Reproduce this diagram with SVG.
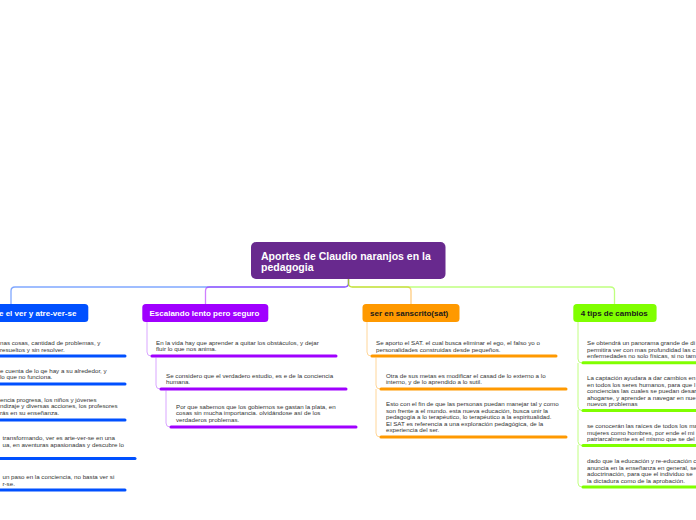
<svg xmlns="http://www.w3.org/2000/svg" width="696" height="520" viewBox="0 0 696 520">
<style>
.root-t{font-family:"Liberation Sans",Arial,sans-serif;font-weight:bold;font-size:10.5px;fill:#fff}
.main-t{font-family:"Liberation Sans",Arial,sans-serif;font-weight:bold;font-size:8px}
.sub-t{font-family:"Liberation Sans",Arial,sans-serif;font-size:6.2px;fill:#333}
.conn{fill:none;stroke-width:1.3;opacity:.5}
.sconn{fill:none;stroke-width:1}
.ul{stroke-width:3;stroke-linecap:round}
.blue{stroke:#0050ff}.purple{stroke:#a000ff}.orange{stroke:#ff9900}.green{stroke:#80ff00}
.sblue{stroke:#80a8ff}.spurple{stroke:#d9a6ff}.sorange{stroke:#ffd699}.sgreen{stroke:#c0ff80}
</style>
<rect width="696" height="520" fill="#fff"/>
<g id="connectors">
<path class="conn blue" d="M348.5,279 V283 Q348.5,287 344.5,287 H15 Q11,287 11,291 V304"/>
<path class="conn purple" d="M348.5,279 V283 Q348.5,287 344.5,287 H209.5 Q205.5,287 205.5,291 V304"/>
<path class="conn orange" d="M348.5,279 V283 Q348.5,287 352.5,287 H407 Q411,287 411,291 V304"/>
<path class="conn green" d="M348.5,279 V283 Q348.5,287 352.5,287 H610.5 Q614.5,287 614.5,291 V304"/>
<path class="sconn spurple" d="M147,322 V352 Q147,356 151,356"/>
<path class="sconn spurple" d="M156,357.5 V385 Q156,389 160,389"/>
<path class="sconn spurple" d="M166,390.5 V423 Q166,427 170,427"/>
<path class="sconn sorange" d="M367,322 V352 Q367,356 371,356"/>
<path class="sconn sorange" d="M376,357.5 V385 Q376,389 380,389"/>
<path class="sconn sorange" d="M376,389 V433 Q376,437 380,437"/>
<path class="sconn sgreen" d="M578,322 V359 Q578,363 582,363"/>
<path class="sconn sgreen" d="M578,363 V406.5 Q578,410.5 582,410.5"/>
<path class="sconn sgreen" d="M578,410 V441.5 Q578,445.5 582,445.5"/>
<path class="sconn sgreen" d="M578,445 V483 Q578,487 582,487"/>
</g>
<g id="root">
<rect x="251" y="242" width="194.5" height="37" rx="5" fill="#68298e"/>
<text class="root-t" x="261" y="260">Aportes de Claudio naranjos en la</text>
<text class="root-t" x="261" y="271">pedagogia</text>
</g>
<g id="n-blue">
<rect x="-10" y="304" width="98.3" height="18" rx="3.5" fill="#0050ff"/>
<text class="main-t" x="-1" y="316" fill="#fff">e el ver y atre-ver-se</text>
</g>
<g id="n-purple">
<rect x="142.3" y="304" width="126" height="18" rx="3.5" fill="#a000ff"/>
<text class="main-t" x="149.5" y="316" fill="#fff">Escalando lento pero seguro</text>
</g>
<g id="n-orange">
<rect x="362.5" y="304" width="97" height="18" rx="3.5" fill="#ff9900"/>
<text class="main-t" x="370" y="316" fill="#1a1a1a">ser en sanscrito(sat)</text>
</g>
<g id="n-green">
<rect x="573.3" y="304" width="83.3" height="18" rx="3.5" fill="#80ff00"/>
<text class="main-t" x="580.7" y="316" fill="#1a1a1a">4 tips de cambios</text>
</g>
<g id="b1">
<text class="sub-t" x="0" y="345">nas cosas, cantidad de problemas, y</text>
<text class="sub-t" x="0" y="351.5">resueltos y sin resolver.</text>
<line class="ul blue" x1="-5" y1="356" x2="125" y2="356"/>
</g>
<g id="b2">
<text class="sub-t" x="0" y="372.5">e cuenta de lo qe hay a su alrededor, y</text>
<text class="sub-t" x="0" y="379">lo que no funciona.</text>
<line class="ul blue" x1="-5" y1="384" x2="125" y2="384"/>
</g>
<g id="b3">
<text class="sub-t" x="0" y="401.5">encia progresa, los niños y jóvenes</text>
<text class="sub-t" x="0" y="408">ndizaje y diversas acciones, los profesores</text>
<text class="sub-t" x="0" y="414.5">rás en su enseñanza.</text>
<line class="ul blue" x1="-5" y1="420" x2="125" y2="420"/>
</g>
<g id="b4">
<text class="sub-t" x="2.5" y="440">transformando, ver es arte-ver-se en una</text>
<text class="sub-t" x="2.5" y="446.5">ua, en aventuras apasionadas y descubre lo</text>
<line class="ul blue" x1="-5" y1="458.5" x2="135" y2="458.5"/>
</g>
<g id="b5">
<text class="sub-t" x="2.5" y="479">un paso en la conciencia, no basta ver si</text>
<text class="sub-t" x="2.5" y="485.5">r-se.</text>
<line class="ul blue" x1="-5" y1="490" x2="125" y2="490"/>
</g>
<g id="p1">
<text class="sub-t" x="156" y="345">En la vida hay que aprender a quitar los obstáculos, y dejar</text>
<text class="sub-t" x="156" y="351">fluir lo que nos anima.</text>
<line class="ul purple" x1="152" y1="356" x2="336" y2="356"/>
</g>
<g id="p2">
<text class="sub-t" x="166" y="377.5">Se considero que el verdadero estudio, es e de la conciencia</text>
<text class="sub-t" x="166" y="384">humana.</text>
<line class="ul purple" x1="161" y1="389" x2="346" y2="389"/>
</g>
<g id="p3">
<text class="sub-t" x="176" y="408.5">Por que sabemos que los gobiernos se gastan la plata, en</text>
<text class="sub-t" x="176" y="415">cosas sin mucha importancia. olvidándose así de los</text>
<text class="sub-t" x="176" y="421.5">verdaderos problemas.</text>
<line class="ul purple" x1="171" y1="427" x2="356" y2="427"/>
</g>
<g id="o1">
<text class="sub-t" x="376" y="345">Se aporto el SAT. el cual busca eliminar el ego, el falso yo o</text>
<text class="sub-t" x="376" y="351.5">personalidades construidas desde pequeños.</text>
<line class="ul orange" x1="372" y1="356" x2="556" y2="356"/>
</g>
<g id="o2">
<text class="sub-t" x="386" y="377.5">Otra de sus metas es modificar el casad de lo externo a lo</text>
<text class="sub-t" x="386" y="384">interno, y de lo aprendido a lo sutil.</text>
<line class="ul orange" x1="381" y1="389" x2="566" y2="389"/>
</g>
<g id="o3">
<text class="sub-t" x="386" y="406">Esto con el fin de que las personas puedan manejar tal y como</text>
<text class="sub-t" x="386" y="412.5">son frente a el mundo. esta nueva educación, busca unir la</text>
<text class="sub-t" x="386" y="419">pedagogía a lo terapéutico, lo terapéutico a la espiritualidad.</text>
<text class="sub-t" x="386" y="425.5">El SAT es referencia a una exploración pedagógica, de la</text>
<text class="sub-t" x="386" y="432">experiencia del ser.</text>
<line class="ul orange" x1="381" y1="437" x2="566" y2="437"/>
</g>
<g id="g1">
<text class="sub-t" x="587" y="345">Se obtendrá un panorama grande de di</text>
<text class="sub-t" x="587" y="351.5">permitira ver con mas profundidad las c</text>
<text class="sub-t" x="587" y="358">enfermedades no solo físicas, si no tam</text>
<line class="ul green" x1="583" y1="362.7" x2="700" y2="362.7"/>
</g>
<g id="g2">
<text class="sub-t" x="587" y="380">La captación ayudara a dar cambios en</text>
<text class="sub-t" x="587" y="386.5">en todos los seres humanos, para que l</text>
<text class="sub-t" x="587" y="393">conciencias las cuales se puedan desarr</text>
<text class="sub-t" x="587" y="399.5">ahogarse, y aprender a navegar en nue</text>
<text class="sub-t" x="587" y="406">nuevos problemas</text>
<line class="ul green" x1="583" y1="410.5" x2="700" y2="410.5"/>
</g>
<g id="g3">
<text class="sub-t" x="587" y="428">se conocerán las raíces de todos los ma</text>
<text class="sub-t" x="587" y="434.5">mujeres como hombres, por ende el mi</text>
<text class="sub-t" x="587" y="441">patriarcalmente es el mismo que se del</text>
<line class="ul green" x1="583" y1="445.5" x2="700" y2="445.5"/>
</g>
<g id="g4">
<text class="sub-t" x="587" y="463">dado que la educación y re-educación c</text>
<text class="sub-t" x="587" y="469.5">anuncia en la enseñanza en general, se</text>
<text class="sub-t" x="587" y="476">adoctrinación, para que el individuo se</text>
<text class="sub-t" x="587" y="482.5">la dictadura como de la aprobación.</text>
<line class="ul green" x1="583" y1="487" x2="700" y2="487"/>
</g>
</svg>
